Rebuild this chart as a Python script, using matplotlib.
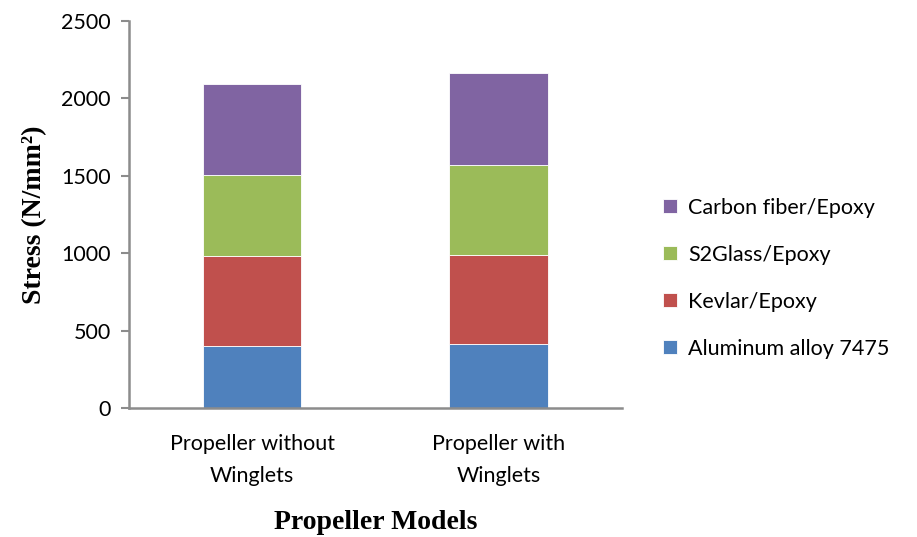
import matplotlib.pyplot as plt
import numpy as np

models = ["Propeller without\nWinglets", "Propeller with\nWinglets"]
materials = ["Aluminum alloy 7475", "Kevlar/Epoxy", "S2Glass/Epoxy", "Carbon fiber/Epoxy"]
aluminum = [400, 415]
kevlar = [580, 575]
s2glass = [525, 580]
carbon = [585, 590]
colors = ["#4f81bd", "#c0504d", "#9bbb59", "#8064a2"]

fig = plt.figure(figsize=(9.17, 5.37), dpi=100)
ax = fig.add_axes([0.1407, 0.2402, 0.5373, 0.7216])

x = np.arange(len(models))
bottom = np.zeros(len(models))
handles = []
for name, vals, c in zip(materials, [aluminum, kevlar, s2glass, carbon], colors):
    b = ax.bar(x, vals, width=0.4, bottom=bottom, color=c, edgecolor="white",
               linewidth=0.6, label=name)
    handles.append(b)
    bottom += np.array(vals)

ax.set_xlim(-0.5, 1.5)
ax.set_ylim(0, 2500)
ax.set_yticks(np.arange(0, 2501, 500))
ax.set_xticks(x)
ax.set_xticklabels(models, fontsize=15.5, family="Lato", linespacing=1.75)
for t in ax.get_yticklabels():
    t.set_fontsize(15.5)
    t.set_family("Lato")

for s in ["top", "right"]:
    ax.spines[s].set_visible(False)
for s in ["left", "bottom"]:
    ax.spines[s].set_color("#8c8c8c")
    ax.spines[s].set_linewidth(1.8)
ax.tick_params(axis="y", length=6, width=1.5, color="#8c8c8c", pad=7)
ax.tick_params(axis="x", length=0, pad=19)

ax.set_ylabel("Stress (N/mm²)", fontsize=20, fontweight="bold",
              family="Liberation Serif", labelpad=10)
ax.set_xlabel("Propeller Models", fontsize=20, fontweight="bold",
              family="Liberation Serif", labelpad=17)

leg = fig.legend(handles[::-1], materials[::-1], loc="center left",
                 bbox_to_anchor=(0.702, 0.482), frameon=False,
                 prop={"family": "Lato", "size": 15.5},
                 handlelength=0.65, handleheight=0.65, handletextpad=0.5,
                 labelspacing=1.25)

fig.savefig("out.png", dpi=100)
